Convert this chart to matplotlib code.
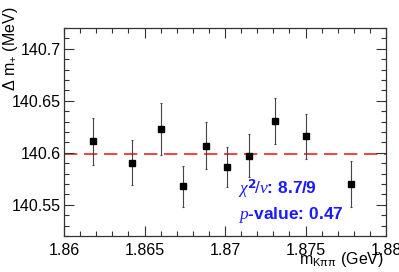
import numpy as np
import matplotlib
matplotlib.use("Agg")
import matplotlib.pyplot as plt
from matplotlib.ticker import MultipleLocator

plt.rcParams['font.family'] = ['Liberation Sans', 'DejaVu Sans']
plt.rcParams['mathtext.fontset'] = 'custom'
plt.rcParams['mathtext.rm'] = 'Liberation Sans'
plt.rcParams['mathtext.it'] = 'Liberation Serif:italic'

# data
m_kpp = [1.8618, 1.8642, 1.8660, 1.8674, 1.8688, 1.8701, 1.8715, 1.8731, 1.8750, 1.8778]
dm = [140.611, 140.5905, 140.623, 140.5676, 140.607, 140.5864, 140.5974, 140.6308, 140.6159, 140.5698]
dm_err = [0.0225, 0.0214, 0.025, 0.0197, 0.023, 0.0195, 0.0203, 0.022, 0.0214, 0.022]
fit_value = 140.599
chi2_text = r"$\mathit{\chi}^{\mathbf{2}}\!/\mathit{\nu}$: 8.7/9"
pval_text = r"$\mathit{p}$-value: 0.47"

W, H = 399, 272
fig = plt.figure(figsize=(W / 100, H / 100), dpi=100)
ax = fig.add_axes([64/W, 1 - 236/H, (386-64)/W, (236-28)/H])

ax.axhline(fit_value, color="#ee2222", lw=1.2, ls=(0, (8, 4)), zorder=1)
ax.errorbar(m_kpp, dm, yerr=dm_err, fmt="s", color="black", ms=4, ecolor="#444444",
            elinewidth=0.8, capsize=1, capthick=0.8, zorder=3)

ax.set_xlim(1.86, 1.88)
ax.set_ylim(140.52, 140.72)
ax.xaxis.set_minor_locator(MultipleLocator(0.001))
ax.yaxis.set_minor_locator(MultipleLocator(0.01))
ax.set_xticks([1.86, 1.865, 1.87, 1.875, 1.88])
ax.set_xticklabels(["1.86", "1.865", "1.87", "1.875", "1.88"])
ax.set_yticks([140.55, 140.6, 140.65, 140.7])
ax.set_yticklabels(["140.55", "140.6", "140.65", "140.7"])
ax.tick_params(which="both", direction="in", top=True, right=True, labelsize=11.5,
               colors="#333333", labelcolor="black")
ax.tick_params(which="major", length=7, width=0.8)
ax.tick_params(which="minor", length=3.5, width=0.8)
ax.tick_params(axis="x", pad=5)
ax.tick_params(axis="y", pad=2)
for s in ax.spines.values():
    s.set_color("#333333")
    s.set_linewidth(0.9)

fig.text(10/W, 1 - 6/H, r"$\Delta$ m$_{+}$ (MeV)", fontsize=11.5, rotation=90,
         ha="center", va="top")
fig.text(384/W, 1 - 269/H, r"m$_{\mathregular{K\pi\pi}}$ (GeV)", fontsize=11.5,
         ha="right", va="bottom")

ax.text(1.8708, 140.5655, chi2_text, color="#1a1aff", fontsize=12.5, fontweight="bold",
        va="center", ha="left")
ax.text(1.8708, 140.5400, pval_text, color="#1a1aff", fontsize=12.5, fontweight="bold",
        va="center", ha="left")

fig.savefig("out.png", dpi=100)
